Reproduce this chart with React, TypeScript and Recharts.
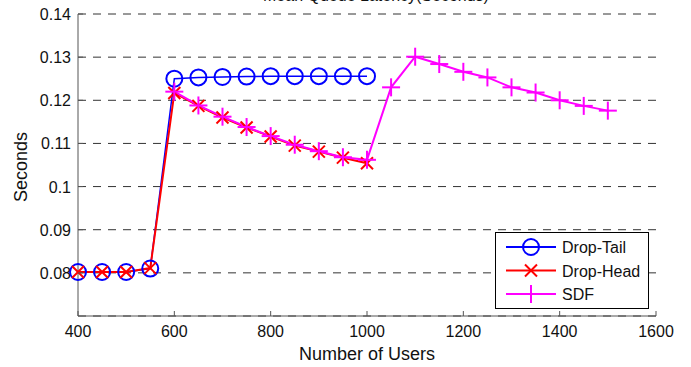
import { LineChart, Line, XAxis, YAxis, CartesianGrid, Legend, Label } from 'recharts';

const tailUsers = [400, 450, 500, 550, 600, 650, 700, 750, 800, 850, 900, 950, 1000];
const dropTail = [0.0802, 0.0802, 0.0802, 0.081, 0.125, 0.1253, 0.1254, 0.1255, 0.1256, 0.1256, 0.1256, 0.1256, 0.1256];

const headUsers = [400, 450, 500, 550, 600, 650, 700, 750, 800, 850, 900, 950, 1000];
const dropHead = [0.0802, 0.0802, 0.0802, 0.0811, 0.1217, 0.1187, 0.116, 0.1137, 0.1116, 0.1095, 0.1081, 0.1067, 0.1054];

const sdfUsers = [600, 650, 700, 750, 800, 850, 900, 950, 1000, 1050, 1100, 1150, 1200, 1250, 1300, 1350, 1400, 1450, 1500];
const sdf = [0.122, 0.1188, 0.1162, 0.1138, 0.1117, 0.1097, 0.1082, 0.1068, 0.1062, 0.123, 0.1301, 0.1284, 0.1266, 0.1253, 0.123, 0.1218, 0.12, 0.1187, 0.1176];

const xTicks = [400, 600, 800, 1000, 1200, 1400, 1600];
const yTicks = [0.07, 0.08, 0.09, 0.1, 0.11, 0.12, 0.13, 0.14];

const FONT = '"Liberation Sans", Arial, sans-serif';
const BLUE = '#0000ff';
const RED = '#ff0000';
const MAGENTA = '#ff00ff';

const toRows = (xs: number[], ys: number[]) => xs.map((users, i) => ({ users, value: ys[i] }));

const CircleDot = (p: any) =>
  p.cx == null ? null : (
    <circle key={`c-${p.index}`} cx={p.cx} cy={p.cy} r={8} fill="none" stroke={BLUE} strokeWidth={2} />
  );

const CrossDot = (p: any) => {
  if (p.cx == null) return null;
  const s = 6;
  return (
    <g key={`x-${p.index}`} stroke={RED} strokeWidth={2}>
      <line x1={p.cx - s} y1={p.cy - s} x2={p.cx + s} y2={p.cy + s} />
      <line x1={p.cx - s} y1={p.cy + s} x2={p.cx + s} y2={p.cy - s} />
    </g>
  );
};

const PlusDot = (p: any) => {
  if (p.cx == null) return null;
  const s = 9;
  return (
    <g key={`p-${p.index}`} stroke={MAGENTA} strokeWidth={2}>
      <line x1={p.cx - s} y1={p.cy} x2={p.cx + s} y2={p.cy} />
      <line x1={p.cx} y1={p.cy - s} x2={p.cx} y2={p.cy + s} />
    </g>
  );
};

const XTick = ({ x, y, payload }: any) => (
  <g>
    <line x1={x} y1={y} x2={x} y2={y - 5} stroke="#555" />
    <text x={x} y={y + 21} textAnchor="middle" fontSize={16} fontFamily={FONT} fill="#111">
      {payload.value}
    </text>
  </g>
);

const YTick = ({ x, y, payload }: any) =>
  payload.value === 0.07 ? null : (
    <g>
      <line x1={x} y1={y} x2={x + 5} y2={y} stroke="#555" />
      <text x={x - 7} y={y + 6} textAnchor="end" fontSize={16} fontFamily={FONT} fill="#111">
        {String(Number(payload.value.toFixed(2)))}
      </text>
    </g>
  );

const legendItems = [
  { name: 'Drop-Tail', color: BLUE, Dot: CircleDot },
  { name: 'Drop-Head', color: RED, Dot: CrossDot },
  { name: 'SDF', color: MAGENTA, Dot: PlusDot },
];

const LegendBox = () => (
  <svg width={155} height={78} style={{ display: 'block' }}>
    <rect x={0.5} y={0.5} width={153} height={76} fill="#fff" stroke="#000" />
    {legendItems.map((it, i) => {
      const cy = 15 + i * 23.5;
      return (
        <g key={it.name}>
          <line x1={11} y1={cy} x2={61} y2={cy} stroke={it.color} strokeWidth={2} />
          {it.Dot({ cx: 36, cy, index: i })}
          <text x={67} y={cy + 6} fontSize={16} fontFamily={FONT} fill="#111">
            {it.name}
          </text>
        </g>
      );
    })}
  </svg>
);

export default function App() {
  return (
    <div style={{ position: 'absolute', left: 0, top: 0, width: 691, height: 367, background: '#fff' }}>
      <LineChart width={691} height={367} margin={{ top: 14, right: 35, bottom: 0, left: 0 }}>
        <CartesianGrid horizontal vertical={false} stroke="#333" strokeDasharray="8 7" />
        <XAxis
          dataKey="users"
          type="number"
          domain={[400, 1600]}
          ticks={xTicks}
          height={51}
          allowDuplicatedCategory={false}
          stroke="#555"
          tickSize={0}
          tickMargin={0}
          tickLine={false}
          tick={<XTick />}
        >
          <Label
            content={() => (
              <g fontFamily={FONT} fill="#111">
                <text x={367} y={360} textAnchor="middle" fontSize={18}>
                  Number of Users
                </text>
                <text x={376} y={1} textAnchor="middle" fontSize={16}>
                  Mean Queue Latency(Seconds)
                </text>
                <text x={27} y={167} textAnchor="middle" fontSize={18} transform="rotate(-90 27 167)">
                  Seconds
                </text>
              </g>
            )}
          />
        </XAxis>
        <YAxis
          type="number"
          domain={[0.07, 0.14]}
          ticks={yTicks}
          width={78}
          stroke="#555"
          tickSize={0}
          tickMargin={0}
          tickLine={false}
          tick={<YTick />}
        />
        <Legend
          layout="vertical"
          align="center"
          verticalAlign="middle"
          content={() => <LegendBox />}
          wrapperStyle={{ position: 'absolute', left: 495, top: 232, width: 155, height: 78, bottom: 'auto' }}
        />
        <Line
          data={toRows(tailUsers, dropTail)}
          dataKey="value"
          name="Drop-Tail"
          stroke={BLUE}
          strokeWidth={1.5}
          dot={CircleDot}
          activeDot={false}
          isAnimationActive={false}
        />
        <Line
          data={toRows(headUsers, dropHead)}
          dataKey="value"
          name="Drop-Head"
          stroke={RED}
          strokeWidth={2}
          dot={CrossDot}
          activeDot={false}
          isAnimationActive={false}
        />
        <Line
          data={toRows(sdfUsers, sdf)}
          dataKey="value"
          name="SDF"
          stroke={MAGENTA}
          strokeWidth={2}
          dot={PlusDot}
          activeDot={false}
          isAnimationActive={false}
        />
      </LineChart>
    </div>
  );
}
